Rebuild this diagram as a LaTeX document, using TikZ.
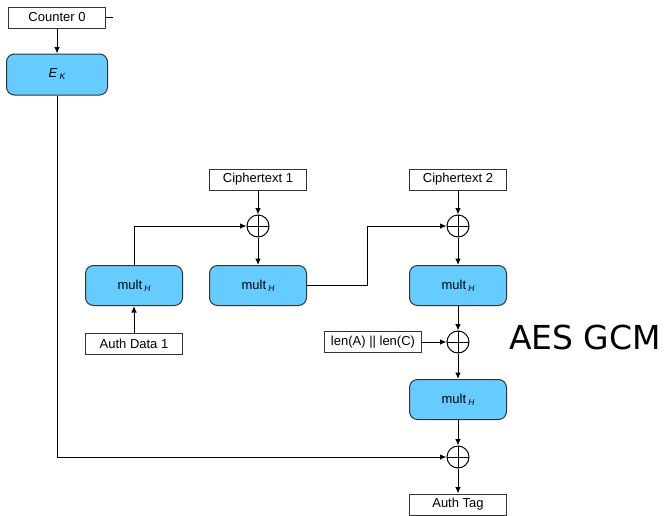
\documentclass[tikz,border=0pt]{standalone}
\usepackage{fontspec}
\setmainfont{Liberation Sans}
\newfontfamily\bigtitle{DejaVu Sans}
\usepackage{tikz}
\usetikzlibrary{arrows.meta}
\definecolor{multblue}{HTML}{66CCFF}
\definecolor{edgegray}{HTML}{333333}
\newcommand{\subsc}[1]{\,{\fontsize{8.5}{8.5}\selectfont\itshape\raisebox{-2pt}{#1}}}

\begin{document}
\begin{tikzpicture}[x=1pt,y=-1pt,->,>={Latex[length=6.5pt,width=5.5pt]},line width=1pt,
  font=\fontsize{13}{15}\selectfont]
  \tikzstyle{plain}=[draw=edgegray,fill=white,minimum width=97pt,minimum height=21pt,inner sep=0pt]
  \tikzstyle{mult}=[draw=edgegray,fill=multblue,rounded corners=8pt,minimum width=97pt,minimum height=40pt,inner sep=0pt]
  \tikzstyle{xor}=[draw,circle,minimum size=22pt,inner sep=0pt,
    path picture={\draw[-] (path picture bounding box.north) -- (path picture bounding box.south)
      (path picture bounding box.west) -- (path picture bounding box.east);}]

  \useasboundingbox (0,0) rectangle (664,515);

  \node[plain]  (C0) at (57,17.5)  {Counter 0};
  \node[mult,minimum width=101pt,minimum height=41pt] (EK) at (57,74.5) {\itshape E\subsc{K}};
  \coordinate   (tick) at (113,17.5);

  \node[plain]  (CT1) at (258,179.5) {Ciphertext 1};
  \node[xor]    (X1)  at (258,226)   {};
  \node[mult]   (M1)  at (134,285.5) {mult\subsc{H}};
  \node[plain]  (AD1) at (134,343.5) {Auth Data 1};
  \node[mult]   (M2)  at (258,285.5) {mult\subsc{H}};

  \node[plain]  (CT2) at (458,179.5) {Ciphertext 2};
  \node[xor]    (X2)  at (458,226)   {};
  \node[mult]   (M3)  at (458,285.5) {mult\subsc{H}};
  \node[xor]    (X3)  at (458,342)   {};
  \node[plain]  (LEN) at (373,342)   {len(A) || len(C)};
  \node[mult]   (M4)  at (458,399.5) {mult\subsc{H}};
  \node[xor]    (X4)  at (458,457)   {};
  \node[plain]  (TAG) at (458,504.5) {Auth Tag};

  \node[font=\bigtitle\fontsize{33}{36}\selectfont] (title) at (585,337) {AES GCM};

  \draw[-] (C0) -- (tick);
  \path (C0)  edge (EK)
        (CT1) edge (X1)
        (AD1) edge (M1)
        (X1)  edge (M2)
        (CT2) edge (X2)
        (X2)  edge (M3)
        (M3)  edge (X3)
        (LEN) edge (X3)
        (X3)  edge (M4)
        (M4)  edge (X4)
        (X4)  edge (TAG)
        ;
  \draw (M1) |- (X1);
  \draw (M2.east) -- ++(60,0) |- (X2);
  \draw (EK) |- (X4);
\end{tikzpicture}
\end{document}
